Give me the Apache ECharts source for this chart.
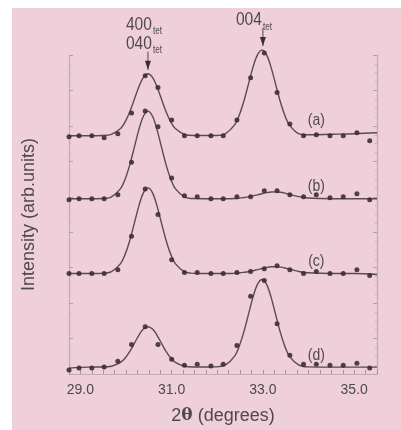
<!DOCTYPE html>
<html>
<head>
<meta charset="utf-8">
<script src="https://cdn.jsdelivr.net/npm/echarts@6/dist/echarts.min.js"></script>
<style>
html,body{margin:0;padding:0;background:#ffffff;}
#c{position:absolute;left:12px;top:8px;width:389px;height:422px;}
</style>
</head>
<body>
<div id="c"></div>
<script>
// ---- data (intensity in arbitrary units, traces offset) ----
const curveX = [28.75, 29.2, 29.48, 29.68, 29.88, 29.98, 30.08, 30.18, 30.28, 30.38, 30.48, 30.58, 30.68, 30.78, 30.88, 30.98, 31.08, 31.28, 31.48, 31.98, 32.18, 32.38, 32.48, 32.58, 32.68, 32.78, 32.88, 32.98, 33.08, 33.18, 33.28, 33.38, 33.48, 33.58, 33.78, 33.98, 34.5, 35.0, 35.5];
const curveA = [242, 242, 242.2, 243.4, 249.3, 256.1, 266.2, 278.7, 291.6, 301.3, 305, 301.3, 291.6, 278.7, 266.2, 256.1, 249.3, 243.4, 242.2, 242.2, 244.2, 253, 262.7, 276.7, 293.9, 311.2, 324.1, 329, 324.1, 311.2, 293.9, 276.7, 262.7, 253, 244.2, 243, 243.5, 244, 245];
const curveB = [178, 178, 178.2, 180, 188.3, 197.9, 212.2, 229.9, 248, 261.8, 267, 261.8, 248, 229.9, 212.2, 197.9, 188.3, 180, 178.2, 178, 178, 178.2, 178.6, 179.2, 179.9, 180.9, 182, 183.1, 184.2, 184.9, 185, 184.6, 183.7, 182.4, 180.2, 178.8, 178, 178, 178];
const curveC = [102, 102, 102.2, 103.9, 112.1, 121.5, 135.4, 152.7, 170.5, 184, 189, 184, 170.5, 152.7, 135.4, 121.5, 112.1, 103.9, 102.2, 102, 102, 102.2, 102.6, 103.2, 103.9, 104.9, 106, 107.1, 108.2, 108.9, 109, 108.6, 107.7, 106.4, 104.2, 102.8, 102, 102, 101];
const curveD = [6, 7, 7.1, 7.9, 11.8, 16.2, 22.7, 30.9, 39.3, 45.6, 48, 45.6, 39.3, 30.9, 22.7, 16.2, 11.8, 7.9, 7.1, 7.2, 9.2, 18.2, 28.2, 42.5, 60, 77.8, 91, 96, 91, 77.8, 60, 42.5, 28.2, 18.2, 9.2, 7.2, 7, 7, 7];

const dotX = [28.75, 28.97, 29.25, 29.52, 29.82, 30.12, 30.42, 30.70, 31.00, 31.28, 31.56, 31.86, 32.13, 32.43, 32.73, 33.03, 33.31, 33.59, 33.89, 34.17, 34.47, 34.76, 35.06, 35.34];
const dotA = [241, 242, 242, 240, 244, 265, 303, 291, 258, 242, 242, 242, 242, 258, 301, 326, 286, 254, 242, 243, 242, 242, 245, 237];
const dotB = [177, 178, 178, 178, 182, 215, 267, 251, 199, 181, 180, 178, 178, 180, 180, 186, 186, 182, 180, 182, 179, 180, 183, 177];
const dotC = [102, 102, 102, 102, 106, 140, 188, 162, 116, 103, 103, 102, 102, 103, 104, 107, 110, 106, 102, 104, 102, 102, 106, 100];
const dotD = [4, 6, 6, 7, 13, 30, 48, 30, 15, 9, 10, 8, 10, 29, 79, 95, 51, 19, 10, 10, 9, 9, 11, 6];

const traceNames = ['(a)', '(b)', '(c)', '(d)'];
const xTickLabels = [29, 31, 33, 35];
const peakNames = [['400', '040'], ['004']];
const peakPos = [30.48, 33.0];
const peakTop = [305, 329];

// ---- layout / style ----
const FONT = "'Liberation Sans', Arial, sans-serif";
const TXT = '#4e4a4c';
const LINE = '#5b4a53';
const DOT = '#3c2d36';
const AX = '#c2adb5';
const NARROW = 0.82;
const labelPos = [[34.17, 258], [34.17, 191], [34.17, 114], [34.17, 19]];

const curves = [curveA, curveB, curveC, curveD];
const dots = [dotA, dotB, dotC, dotD];

const series = [];
curves.forEach((c, i) => {
  series.push({
    type: 'line', name: traceNames[i] + ' fit', clip: false,
    data: curveX.map((x, k) => [x, c[k]]),
    showSymbol: false, smooth: 0.35,
    lineStyle: { color: LINE, width: 1.4 }, silent: true, z: 2
  });
});
dots.forEach((d, i) => {
  series.push({
    type: 'scatter', name: traceNames[i], clip: false,
    data: dotX.map((x, k) => [x, d[k]]),
    symbol: 'circle', symbolSize: 5,
    itemStyle: { color: DOT, opacity: 0.9 }, z: 3
  });
});

const chart = echarts.init(document.getElementById('c'));
chart.setOption({
  backgroundColor: '#efcfd9',
  animation: false,
  grid: { left: 50, top: 47, right: 24, bottom: 51 },
  xAxis: {
    type: 'value', min: 28.75, max: 35.5, interval: 0.25,
    axisLine: { show: true, lineStyle: { color: AX, width: 1.2 } },
    axisTick: { show: true, inside: true, length: 4, lineStyle: { color: '#a8939c' } },
    splitLine: { show: false },
    axisLabel: {
      interval: 0, margin: 9, color: TXT, fontSize: 14, fontFamily: FONT,
      formatter: v => {
        const r = Math.round(v);
        return (Math.abs(v - r) < 1e-6 && xTickLabels.indexOf(r) >= 0) ? r.toFixed(1) : '';
      }
    },
    name: '{n|2}{t|θ}{n| (degrees)}',
    nameLocation: 'middle', nameGap: 33,
    nameTextStyle: {
      rich: {
        n: { fontSize: 18, fontFamily: FONT, color: TXT },
        t: { fontSize: 17, fontFamily: "'DejaVu Serif', serif", fontWeight: 'bold', color: TXT }
      }
    }
  },
  yAxis: [{
    type: 'value', min: 0, max: 324, interval: 36, position: 'left',
    axisLine: { show: true, lineStyle: { color: AX, width: 1.2 } },
    axisTick: { show: true, inside: true, length: 4, lineStyle: { color: '#b59fa8' } },
    minorTick: { show: true, splitNumber: 4, length: 2, lineStyle: { color: '#c6b2ba' } },
    axisLabel: { show: false },
    splitLine: { show: false },
    name: 'Intensity (arb.units)', nameLocation: 'middle', nameGap: 31, nameRotate: 90,
    nameTextStyle: { fontSize: 18, fontFamily: FONT, color: TXT }
  }, {
    type: 'value', min: 0, max: 324, interval: 36, position: 'right',
    axisLine: { show: true, lineStyle: { color: AX, width: 1.2 } },
    axisTick: { show: true, inside: true, length: 4, lineStyle: { color: '#b59fa8' } },
    minorTick: { show: true, splitNumber: 4, length: 2, lineStyle: { color: '#c6b2ba' } },
    axisLabel: { show: false },
    splitLine: { show: false }
  }],
  series: series
});

// annotations placed through the chart's own scales
const g = [];
labelPos.forEach((p, i) => {
  const px = chart.convertToPixel({ gridIndex: 0 }, p);
  g.push({ type: 'text', x: px[0], y: px[1], scaleX: NARROW, silent: true,
    style: { text: traceNames[i], fill: TXT, font: '17px ' + FONT, align: 'center', verticalAlign: 'middle' } });
});
peakPos.forEach((x, i) => {
  const tip = chart.convertToPixel({ gridIndex: 0 }, [x, peakTop[i]]);
  const tx = tip[0], ty = tip[1] - 4;
  const len = 18;
  g.push({ type: 'line', silent: true, shape: { x1: tx, y1: ty - len, x2: tx, y2: ty },
    style: { stroke: '#6a5a62', lineWidth: 1.2 } });
  g.push({ type: 'polygon', silent: true, shape: { points: [[tx - 3, ty - 9], [tx + 3, ty - 9], [tx, ty]] },
    style: { fill: '#3c2d36' } });
  const names = peakNames[i];
  const n = names.length;
  names.forEach((nm, j) => {
    const cy = ty - len - 8 - (n - 1 - j) * 19;
    const rx = tx + (n > 1 ? 4 : -1);
    g.push({ type: 'text', x: rx, y: cy, scaleX: NARROW, silent: true,
      style: { text: nm, fill: TXT, font: '19px ' + FONT, align: 'right', verticalAlign: 'middle' } });
    g.push({ type: 'text', x: rx + 1, y: cy + 7, scaleX: NARROW, silent: true,
      style: { text: 'tet', fill: TXT, font: '10px ' + FONT, align: 'left', verticalAlign: 'middle' } });
  });
});
chart.setOption({ graphic: g });
</script>
</body>
</html>
